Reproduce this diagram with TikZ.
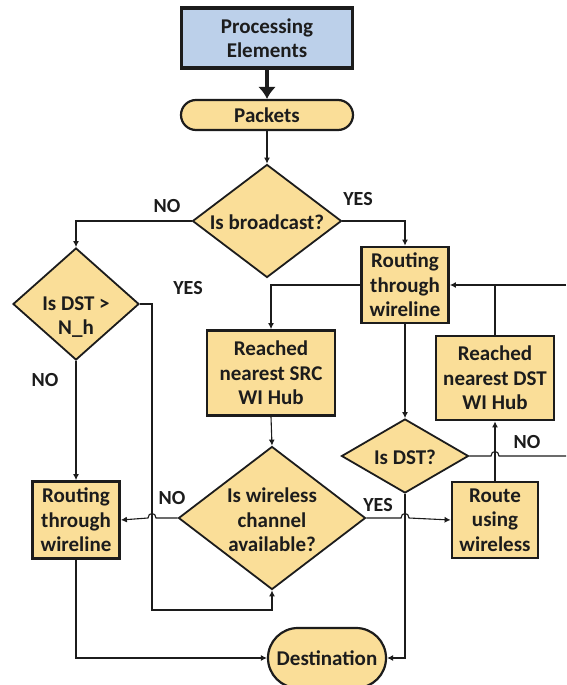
\documentclass[tikz,border=0pt]{standalone}
\usepackage{fontspec}
\setmainfont{Carlito}
\usetikzlibrary{shapes.geometric,shapes.misc,arrows.meta}
\definecolor{boxyellow}{RGB}{250,222,152}
\definecolor{peblue}{RGB}{188,208,234}
\definecolor{ink}{RGB}{28,28,28}
\begin{document}
\begin{tikzpicture}[x=1pt,y=-1pt,
  font=\fontsize{21}{24.5}\selectfont\bfseries, text=ink,
  stepbox/.style={rectangle,draw=ink,line width=2.8pt,fill=boxyellow,inner sep=0pt,align=center},
  endbox/.style={rounded rectangle,draw=ink,line width=2.2pt,fill=boxyellow,inner sep=0pt,align=center},
  decide/.style={diamond,draw=ink,line width=1.8pt,fill=boxyellow,inner sep=0pt},
  dtext/.style={align=center,inner sep=0pt},
  lbl/.style={inner sep=0pt,font=\fontsize{20}{23}\selectfont\bfseries},
  conn/.style={draw=ink,line width=1.1pt},
  arr/.style={conn,-{Latex[length=6pt,width=6pt]}},
]
\fill[white] (0,0) rectangle (566,685);
\useasboundingbox (0,0) rectangle (566,685);

% nodes
\node[stepbox,fill=peblue,line width=3.2pt,minimum width=171pt,minimum height=60pt] (pe) at (267,38) {Processing\\Elements};
\node[endbox,minimum width=172pt,minimum height=30pt] (pk) at (267,115) {Packets};

\node[decide,minimum width=149pt,minimum height=113pt] (bc) at (267,221) {};
\node[dtext] (bct) at (267,222) {Is broadcast?};

\node[decide,minimum width=126pt,minimum height=112pt] (nh) at (76,304) {};
\node[dtext] (nht) at (76,317) {Is DST >\\N\_h};

\node[stepbox,minimum width=87pt,minimum height=76pt] (rr) at (405,285) {Routing\\through\\wireline};
\node[stepbox,minimum width=128pt,minimum height=85pt] (src) at (271,373) {Reached\\nearest SRC\\WI Hub};
\node[stepbox,minimum width=118pt,minimum height=84pt] (dh) at (495,378) {Reached\\nearest DST\\WI Hub};

\node[decide,minimum width=127pt,minimum height=74pt] (dst) at (405,456) {};
\node[dtext] (dstt) at (405,457) {Is DST?};

\node[decide,minimum width=187pt,minimum height=143pt] (wl) at (272,518) {};
\node[dtext] (wlt) at (272,520) {Is wireless\\channel\\available?};

\node[stepbox,minimum width=87pt,minimum height=77pt] (rl) at (76,520) {Routing\\through\\wireline};
\node[stepbox,minimum width=86pt,minimum height=76pt] (rw) at (495,520) {Route\\using\\wireless};

\node[endbox,minimum width=118pt,minimum height=60pt] (dest) at (327,658) {Destination};

% labels
\node[lbl] (l1) at (167,206) {NO};
\node[lbl] (l2) at (358,199) {YES};
\node[lbl] (l3) at (188,288) {YES};
\node[lbl] (l4) at (45,380) {NO};
\node[lbl] (l5) at (172,498) {NO};
\node[lbl] (l6) at (378,505) {YES};
\node[lbl] (l7) at (527,442) {NO};

% coordinates
\coordinate (c1) at (152,610);
\coordinate (eR1) at (566,285);
\coordinate (eR2) at (566,456);

% connectors
\draw[draw=ink,line width=4.5pt,-{Latex[length=12pt,width=18pt]}] (pe.south) -- (pk.north);
\draw[arr] (pk.south) -- (bc.north);
\draw[arr] (bc.west) -| (nh.north);
\draw[arr] (bc.east) -| (rr.north);
\draw[arr] (nh.east) -| (c1) -| (wl.south);
\draw[arr] (nh.south) -- (rl.north);
\draw[arr] (rr.west) -| (src.north);
\draw[arr] (src.south) -- (wl.north);
\draw[arr] (rr.south) -- (dst.north);
\draw[arr] (wl.west) -- (156,518) .. controls (156,512) and (148,512) .. (148,518) -- (rl.east);
\draw[arr] (wl.east) -- (401,518) .. controls (401,512) and (409,512) .. (409,518) -- (rw.west);
\draw[arr] (dst.south) |- (dest.east);
\draw[arr] (rl.south) |- (dest.west);
\draw[conn] (dst.east) -- (491,456) .. controls (491,450) and (499,450) .. (499,456) -- (eR2);
\draw[arr] (rw.north) -- (dh.south);
\draw[arr] (eR1) -- (rr.east);
\draw[conn] (dh.north) -- (dh.north |- rr.east);
\end{tikzpicture}
\end{document}
